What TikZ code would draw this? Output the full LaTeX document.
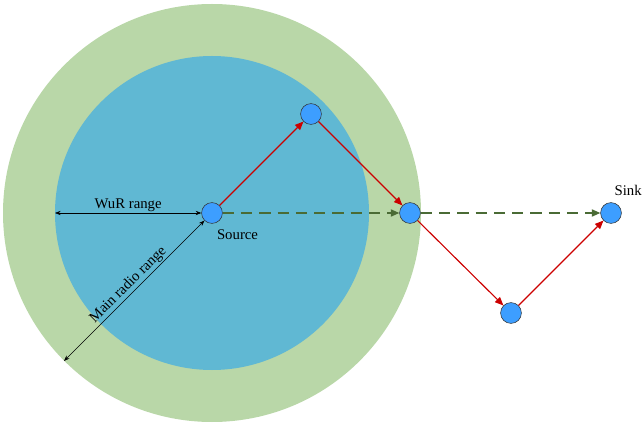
\documentclass[tikz,border=0pt]{standalone}
\usepackage{fontspec}
\setmainfont{Liberation Serif}
\usetikzlibrary{arrows.meta, positioning}
\definecolor{RangeGreen}{HTML}{B9D7A8}
\definecolor{RangeBlue}{HTML}{60B8D3}
\definecolor{NodeBlue}{HTML}{3D9EFF}
\definecolor{HopRed}{HTML}{CC0000}
\definecolor{PathGreen}{HTML}{4A6B35}
\tikzset{
    sensor/.style={
        circle,
        draw=black!80,
        fill=NodeBlue,
        minimum size=0.52cm,
        inner sep=0pt
    },
    hop/.style={
        -{Triangle[length=6pt,width=5pt]},
        HopRed,
        line width=0.8pt
    },
    wurpath/.style={
        -{Triangle[length=6pt,width=5pt]},
        PathGreen,
        line width=1.2pt,
        dash pattern=on 8pt off 5pt
    },
    rangearrow/.style={
        {Stealth[length=4pt]}-{Stealth[length=4pt]},
        black,
        line width=0.4pt
    },
    lbl/.style={
        font=\fontsize{10.5}{12}\selectfont,
        inner sep=1pt
    }
}

\begin{document}
\begin{tikzpicture}[x=0.025cm, y=-0.025cm]
        \useasboundingbox (0,0) rectangle (642,425);

        % coverage areas
        \fill[RangeGreen] (212,213) circle (209);
        \fill[RangeBlue] (212,213) circle (157);

        % sensor nodes
        \node[sensor] (source) at (212,213) {};
        \node[sensor] (relayA) at (311,114) {};
        \node[sensor] (relayB) at (410,213) {};
        \node[sensor] (relayC) at (511,313) {};
        \node[sensor] (sink) at (611,213) {};

        \node[lbl, below right=5pt and -3pt of source] {Source};
        \node[lbl, above right=6pt and -4pt of sink] {Sink};

        % ranges
        \coordinate (wurEdge) at (55,213);
        \coordinate (mainEdge) at (64,361);
        \draw[rangearrow] (wurEdge) -- (source.west)
            node[lbl, midway, above] {WuR range};
        \draw[rangearrow] (mainEdge) -- (source.225)
            node[lbl, pos=0.5, above, sloped] {Main radio range};

        % wake-up path
        \draw[wurpath] (source) -- (relayB);
        \draw[wurpath] (relayB) -- (sink);

        % multi-hop main radio path
        \draw[hop] (source) -- (relayA);
        \draw[hop] (relayA) -- (relayB);
        \draw[hop] (relayB) -- (relayC);
        \draw[hop] (relayC) -- (sink);
    \end{tikzpicture}
\end{document}
